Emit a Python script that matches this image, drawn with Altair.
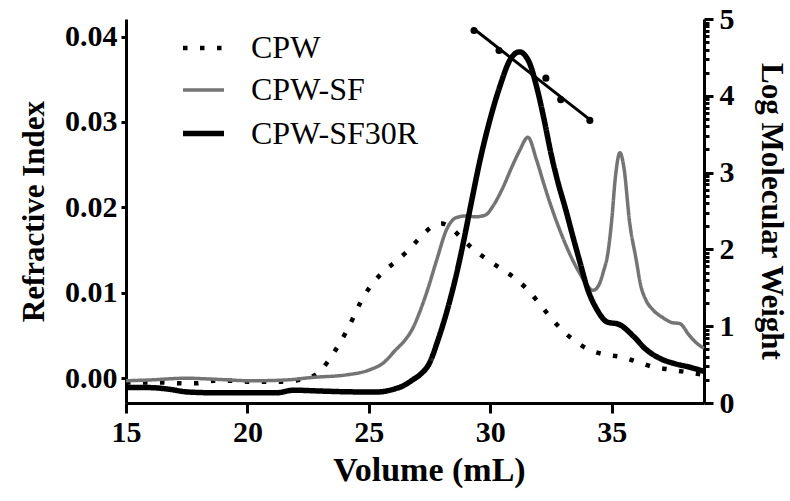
import altair as alt
import pandas as pd
import numpy as np

# ---------------- data ----------------
series_names = ["CPW", "CPW-SF", "CPW-SF30R"]

cpw_x = [15.0, 15.8, 16.5, 17.2, 17.9, 18.6, 19.3, 20.0, 20.7, 21.4, 22.1, 22.8, 23.3,
         23.67, 24.04, 24.36, 24.66, 25.05, 25.5, 26.03, 26.56, 27.06, 27.58, 28.0,
         28.23, 28.75, 29.26, 29.82, 30.4, 30.97, 31.52, 31.98, 32.43, 32.9, 33.42,
         34.03, 34.68, 35.38, 36.07, 36.75, 37.44, 38.12, 38.8]
cpw_y = [-0.0005, -0.0005, -0.0005, -0.0006, -0.0006, -0.0003, -0.0003, -0.0004, -0.0004,
         -0.0004, -0.0002, 0.0004, 0.0019, 0.0035, 0.0053, 0.0071, 0.0089, 0.0107, 0.0122,
         0.0135, 0.0148, 0.0163, 0.0177, 0.0181, 0.0179, 0.0166, 0.0152, 0.0140, 0.0129,
         0.0118, 0.0104, 0.0089, 0.0073, 0.0058, 0.0045, 0.0034, 0.0028, 0.0025, 0.0019,
         0.0013, 0.0010, 0.0007, 0.0004]

sf_x = [15.0, 16.0, 17.5, 18.5, 20.2, 21.6, 22.7, 24.1, 25.05, 25.6, 26.1, 26.5, 26.8, 27.1,
        27.4, 27.8, 28.2, 28.6, 29.0, 29.4, 29.8, 30.1, 30.5, 30.9, 31.2, 31.55, 31.9, 32.2,
        32.46, 32.8, 33.14, 33.45, 33.7, 34.0, 34.24, 34.45, 34.65, 34.85, 35.0, 35.15,
        35.34, 35.5, 35.74, 36.0, 36.2, 36.4, 36.7, 37.1, 37.5, 37.8, 38.2, 38.5, 38.8]
sf_y = [-0.0003, -0.0002, 0.0000, -0.0001, -0.0003, -0.0002, 0.0001, 0.0004, 0.0010, 0.0018,
        0.0033, 0.0045, 0.0058, 0.0078, 0.0102, 0.0139, 0.0174, 0.0188, 0.0190, 0.0189,
        0.0191, 0.0201, 0.0222, 0.0248, 0.0266, 0.0282, 0.0256, 0.0228, 0.0205, 0.0178,
        0.0154, 0.0135, 0.0122, 0.0108, 0.0103, 0.0108, 0.0124, 0.0148, 0.0185, 0.0235,
        0.0264, 0.0247, 0.0182, 0.0140, 0.0108, 0.0092, 0.0080, 0.0071, 0.0065, 0.0064,
        0.0050, 0.0041, 0.0035]

r_x = [15.0, 16.0, 16.8, 17.5, 18.6, 20.0, 21.2, 21.9, 23.0, 24.5, 25.4, 26.0, 26.4, 26.8,
       27.1, 27.5, 27.85, 28.2, 28.55, 28.9, 29.2, 29.6, 30.0, 30.4, 30.8, 31.2, 31.6, 31.9,
       32.2, 32.5, 32.8, 33.1, 33.4, 33.7, 34.0, 34.4, 34.8, 35.3, 35.9, 36.4, 37.0, 37.6,
       38.2, 38.8]
r_y = [-0.0011, -0.0011, -0.0013, -0.0016, -0.0017, -0.0017, -0.0017, -0.0014, -0.0015,
       -0.0016, -0.0016, -0.0013, -0.0009, -0.0002, 0.0004, 0.0018, 0.0045, 0.0077, 0.0115,
       0.0160, 0.0203, 0.0258, 0.0304, 0.0342, 0.0372, 0.0382, 0.0370, 0.0342, 0.0305,
       0.0263, 0.0228, 0.0198, 0.0166, 0.0135, 0.0105, 0.0080, 0.0066, 0.0063, 0.0049,
       0.0034, 0.0023, 0.0017, 0.0013, 0.0008]

# calibration (log molecular weight, right axis)
cal_x = [29.33, 30.36, 32.29, 32.90, 34.10]
cal_y = [4.85, 4.59, 4.23, 3.95, 3.68]
fit_x = [29.33, 34.10]
fit_y = [4.87, 3.69]

x_ticks = [15, 20, 25, 30, 35]
left_ticks = [0.0, 0.01, 0.02, 0.03, 0.04]
right_major = [0, 1, 2, 3, 4, 5]

# ---------------- build tables ----------------
rows = []
for name, xs, ys in [("CPW", cpw_x, cpw_y), ("CPW-SF", sf_x, sf_y), ("CPW-SF30R", r_x, r_y)]:
    for a, b in zip(xs, ys):
        rows.append({"series": name, "volume": a, "ri": b})
df = pd.DataFrame(rows)
cal = pd.DataFrame({"volume": cal_x, "logmw": cal_y})
fit = pd.DataFrame({"volume": fit_x, "logmw": fit_y})

right_ticks = list(right_major)
for d in range(5):
    for k in range(2, 10):
        right_ticks.append(round(d + float(np.log10(k)), 5))
right_ticks = sorted(right_ticks)

FONT = "Liberation Serif"

xscale = alt.Scale(domain=[15, 38.8], nice=False, zero=False)
xaxis = alt.Axis(values=x_ticks, title="Volume (mL)", labelFlush=False, labelPadding=4,
                 tickSize=10, titlePadding=6, format="d", titleFontSize=34, titleX=303)

legend = alt.Legend(orient="none", legendX=54, legendY=6, symbolType="stroke",
                    symbolSize=1681, labelFont=FONT, labelFontSize=32, labelColor="black",
                    labelOffset=24, rowPadding=3.5, title=None, padding=0, labelLimit=0,
                    direction="vertical")

lines = alt.Chart(df).mark_line(interpolate="monotone", strokeCap="butt").encode(
    x=alt.X("volume:Q", scale=xscale, axis=xaxis),
    y=alt.Y("ri:Q", scale=alt.Scale(domain=[-0.0029, 0.04205], nice=False, zero=False),
            axis=alt.Axis(values=left_ticks, format=".2f", title="Refractive Index",
                          orient="left", labelPadding=4, titlePadding=14)),
    color=alt.Color("series:N", scale=alt.Scale(domain=series_names,
                    range=["#000000", "#747474", "#000000"]), legend=legend),
    strokeDash=alt.StrokeDash("series:N", scale=alt.Scale(domain=series_names,
                              range=[[4.5, 12.5], [1, 0], [1, 0]]), legend=legend),
    strokeWidth=alt.StrokeWidth("series:N", scale=alt.Scale(type="ordinal", domain=series_names,
                                range=[4.5, 3.5, 5.5]), legend=legend),
)

yr_scale = alt.Scale(domain=[0, 5], nice=False, zero=False)
right_axis = alt.Axis(orient="right", values=right_ticks, title="Log Molecular Weight",
                      labelExpr="datum.value % 1 === 0 ? format(datum.value, 'd') : ''",
                      tickSize={"condition": {"test": "datum.value % 1 === 0", "value": 9},
                                "value": 5},
                      labelOverlap=False, labelPadding=6, titlePadding=20, labelFlush=False)

fit_line = alt.Chart(fit).mark_line(color="black", strokeWidth=3).encode(
    x=alt.X("volume:Q", scale=xscale, axis=xaxis),
    y=alt.Y("logmw:Q", scale=yr_scale, axis=right_axis),
)
pts = alt.Chart(cal).mark_point(filled=True, color="black", size=50, opacity=1).encode(
    x=alt.X("volume:Q", scale=xscale, axis=xaxis),
    y=alt.Y("logmw:Q", scale=yr_scale, axis=right_axis),
)
right = alt.layer(fit_line, pts)

chart = alt.layer(lines, right).resolve_scale(y="independent").properties(
    width=578, height=384,
    autosize=alt.AutoSizeParams(type="none"),
    padding={"left": 126, "top": 19, "right": 86, "bottom": 98},
    background="white",
).configure_view(stroke=None).configure_axis(
    grid=False, domainColor="black", domainWidth=3, tickColor="black", tickWidth=3,
    labelFont=FONT, labelFontWeight="bold", labelFontSize=30, labelColor="black",
    titleFont=FONT, titleFontWeight="bold", titleFontSize=31, titleColor="black",
)

chart.save("out.html", embed_options={"renderer": "svg", "actions": False})
